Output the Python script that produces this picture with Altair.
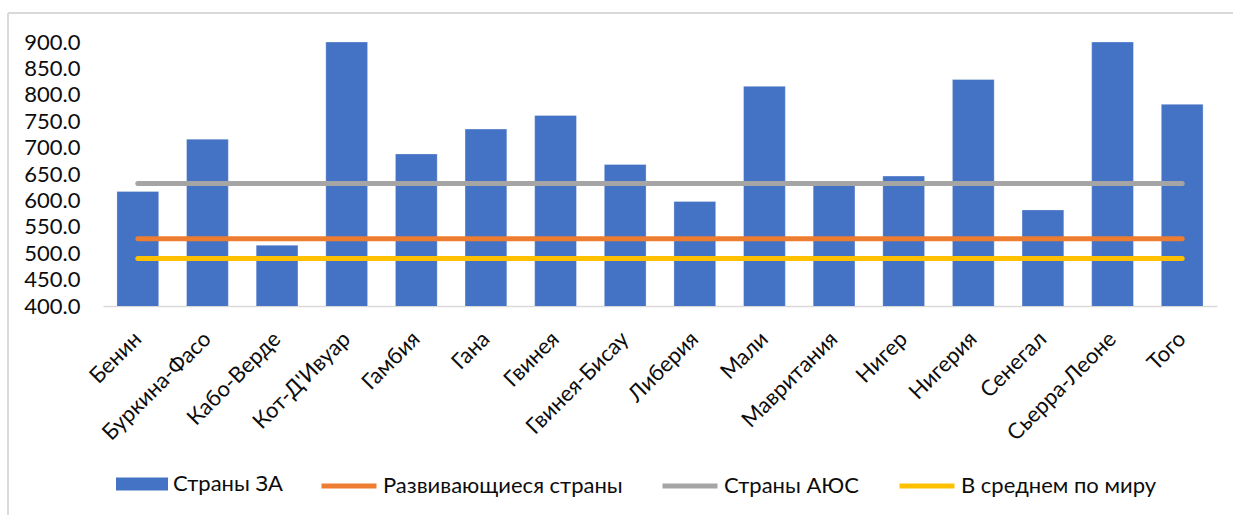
import altair as alt
import pandas as pd

# Countries and their values (bars)
countries = [
    "Бенин", "Буркина-Фасо", "Кабо-Верде", "Кот-Д'Ивуар", "Гамбия", "Гана",
    "Гвинея", "Гвинея-Бисау", "Либерия", "Мали", "Мавритания", "Нигер",
    "Нигерия", "Сенегал", "Сьерра-Леоне", "Того",
]
za_values = [617, 716, 515, 900, 688, 735, 761, 668, 598, 816, 631, 646, 829, 582, 900, 782]

# Reference levels drawn as horizontal lines
line_series = ["Развивающиеся страны", "Страны АЮС", "В среднем по миру"]
line_levels = [527.5, 632.0, 490.0]
line_colors = ["#ED7D31", "#A5A5A5", "#FFC000"]

bar_series = "Страны ЗА"
bar_color = "#4472C4"

FONT = "Lato"
TEXT = "#0d0d0d"
FS = 22

bars_df = pd.DataFrame({"country": countries, "value": za_values, "series": bar_series})
lines_df = pd.DataFrame(
    [
        {"country": c, "value": lvl, "series": s}
        for s, lvl in zip(line_series, line_levels)
        for c in countries
    ]
)

x_scale = alt.Scale(domain=countries, paddingInner=0.4, paddingOuter=0.2)
x_axis = alt.Axis(
    title=None,
    labelAngle=-45,
    labelAlign="right",
    labelBaseline="middle",
    labelPadding=29,
    labelFontSize=FS,
    labelFont=FONT,
    labelColor=TEXT,
    labelLimit=300,
    labelOverlap=False,
    ticks=False,
    domainColor="#d9d9d9",
    domainWidth=1.5,
    grid=False,
)

y_scale = alt.Scale(domain=[400, 900], nice=False, zero=False)
y_axis = alt.Axis(
    title=None,
    values=list(range(400, 901, 50)),
    format=".1f",
    labelFontSize=FS,
    labelFont=FONT,
    labelColor=TEXT,
    labelPadding=23,
    labelOverlap=False,
    labelFlush=False,
    ticks=False,
    domain=False,
    grid=False,
)

legend_common = dict(
    title=None,
    orient="none",
    direction="horizontal",
    labelFontSize=FS,
    labelFont=FONT,
    labelColor=TEXT,
    labelLimit=400,
)

bars = (
    alt.Chart(bars_df)
    .mark_bar(stroke="#ffffff", strokeWidth=0.6, strokeOpacity=0.5, clip=True)
    .encode(
        x=alt.X("country:N", sort=countries, scale=x_scale, axis=x_axis),
        y=alt.Y("value:Q", scale=y_scale, axis=y_axis),
        fill=alt.Fill(
            "series:N",
            scale=alt.Scale(domain=[bar_series], range=[bar_color]),
            legend=alt.Legend(
                legendX=13,
                legendY=416,
                symbolType="M-1,-0.25H1V0.25H-1Z",
                symbolSize=2704,
                symbolStrokeWidth=0,
                labelOffset=5,
                **legend_common,
            ),
        ),
    )
)

lines = (
    alt.Chart(lines_df)
    .mark_line(strokeWidth=5, strokeCap="round")
    .encode(
        x=alt.X("country:N", sort=countries, bandPosition=0.5, scale=x_scale, axis=x_axis),
        y=alt.Y("value:Q", scale=y_scale, axis=y_axis),
        stroke=alt.Stroke(
            "series:N",
            scale=alt.Scale(domain=line_series, range=line_colors),
            legend=alt.Legend(
                legendX=216,
                legendY=414,
                symbolType="stroke",
                symbolSize=3025,
                symbolStrokeWidth=5,
                columnPadding=29,
                labelOffset=4,
                **legend_common,
            ),
        ),
    )
)

# Light outer frame of the chart area (top and left edges)
frame_df = pd.DataFrame({"k": [0]})
frame_top = alt.Chart(frame_df).mark_rule(color="#d9d9d9", strokeWidth=2).encode(
    x=alt.value(-95), x2=alt.value(1140), y=alt.value(-29)
)
frame_left = alt.Chart(frame_df).mark_rule(color="#d9d9d9", strokeWidth=2).encode(
    x=alt.value(-95), y=alt.value(-29), y2=alt.value(480)
)

chart = (
    alt.layer(frame_top, frame_left, bars, lines)
    .properties(
        width=1114,
        height=264,
        padding={"left": 103, "top": 42, "right": 16, "bottom": 209},
        autosize=alt.AutoSizeParams(type="none"),
        background="#ffffff",
    )
    .configure_view(stroke=None)
    .configure_axisY(labelOverlap=False)
)

chart.save("out.html", embed_options={"renderer": "svg", "actions": False})
